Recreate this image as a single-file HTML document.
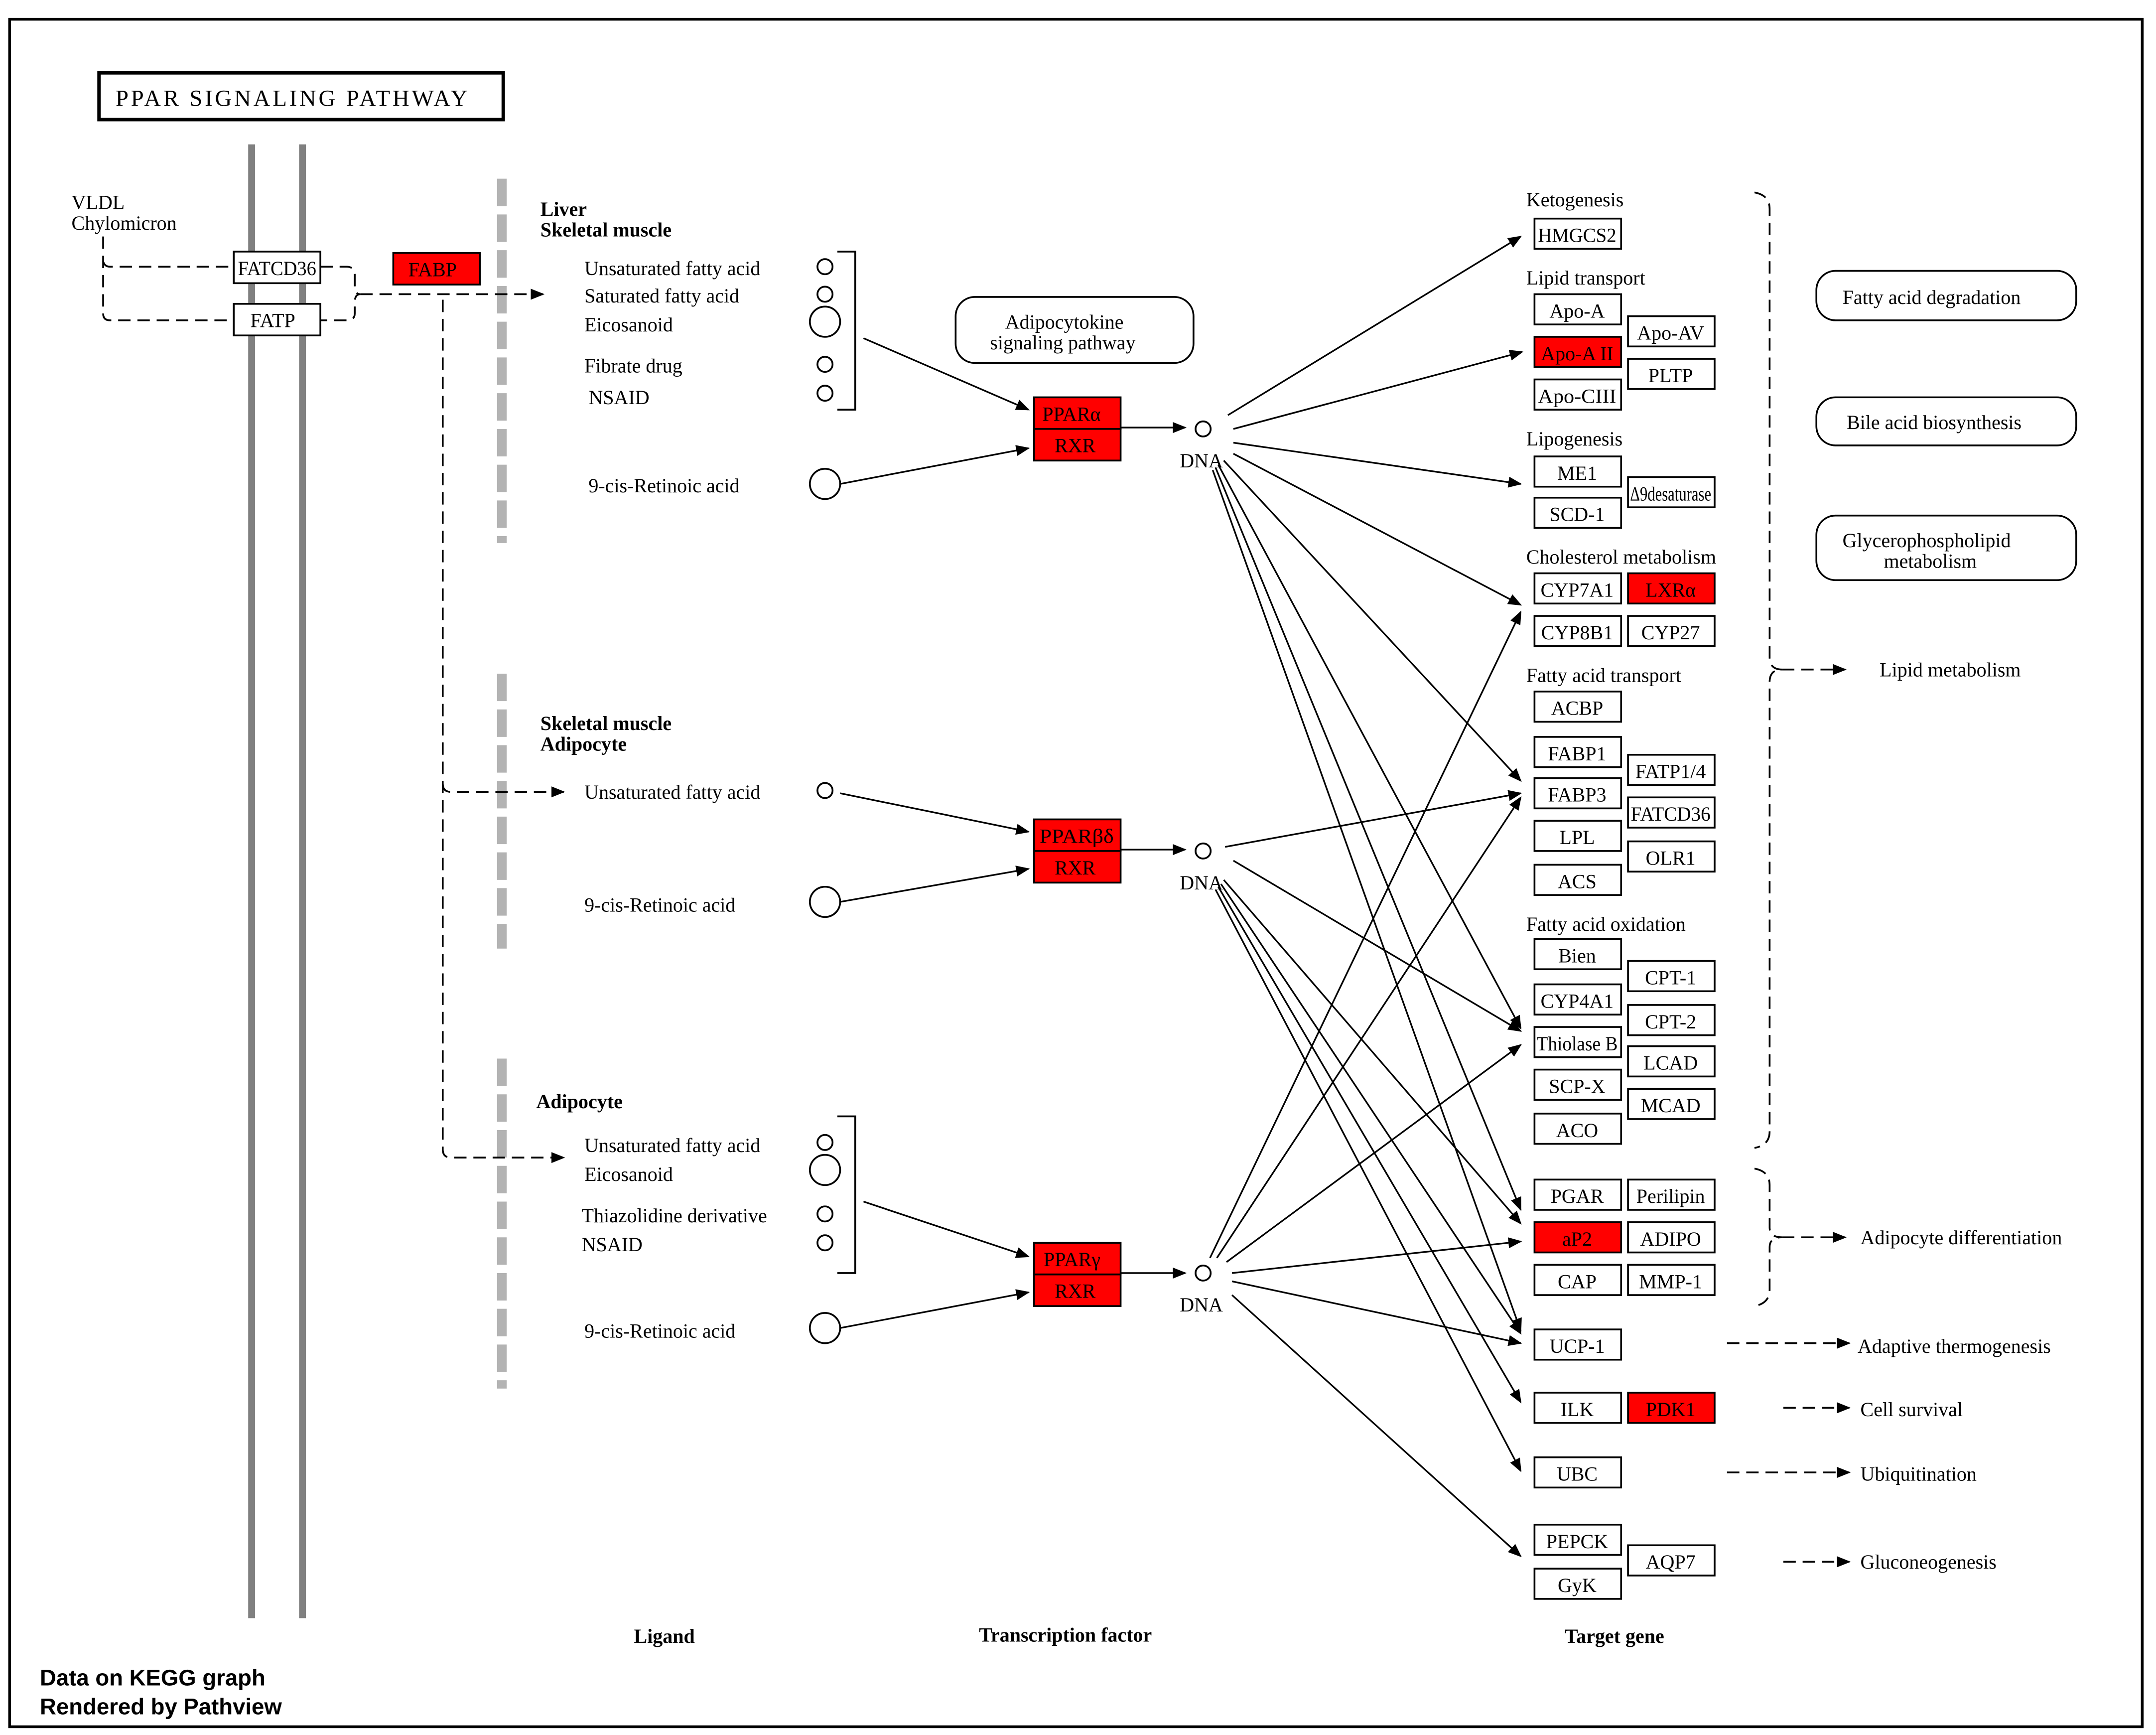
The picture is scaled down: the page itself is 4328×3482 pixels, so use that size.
<!DOCTYPE html>
<html><head><meta charset="utf-8"><style>
html,body{margin:0;padding:0;background:#fff;}
svg{display:block;}
text{font-family:"Liberation Serif",serif;font-size:14.5px;fill:#000;}
.b{font-weight:bold;}
.g rect{fill:#fff;stroke:#000;stroke-width:1.3;}
.r{fill:#ff0000 !important;}
</style></head><body>
<svg width="4328" height="3482" viewBox="0 0 1568 1262" preserveAspectRatio="none" xmlns="http://www.w3.org/2000/svg">
<defs><marker id="a" markerWidth="10" markerHeight="8" refX="9" refY="4" orient="auto" markerUnits="userSpaceOnUse"><path d="M0,0 L10,4 L0,8 z" fill="#000"/></marker></defs>
<rect x="0" y="0" width="1568" height="1262" fill="#fff"/>
<rect x="7" y="14" width="1551" height="1242" fill="none" stroke="#000" stroke-width="2"/>
<rect x="72" y="53" width="294" height="34" fill="none" stroke="#000" stroke-width="2.5"/>
<text x="84" y="77" style="font-size:17px" textLength="256">PPAR  SIGNALING  PATHWAY</text>
<line x1="183" y1="105" x2="183" y2="1177" stroke="#808080" stroke-width="5"/>
<line x1="220" y1="105" x2="220" y2="1177" stroke="#808080" stroke-width="5"/>
<g stroke="#b3b3b3" stroke-width="7" stroke-dasharray="20,6">
<line x1="365" y1="130" x2="365" y2="395"/><line x1="365" y1="490" x2="365" y2="690"/><line x1="365" y1="770" x2="365" y2="1010"/></g>
<text x="52" y="152">VLDL</text><text x="52" y="167">Chylomicron</text>
<g fill="none" stroke="#000" stroke-width="1.3" stroke-dasharray="9,5">
<path d="M75,172 V228 Q75,233 80,233 H170"/><path d="M75,190 Q76,194 80,194 H170"/>
<path d="M233,194 H252 Q258,194 258,200 V208 Q258,214 262,214 Q258,214 258,220 V228 Q258,233 252,233 H233"/>
<path d="M262,214 H395" marker-end="url(#a)"/>
<path d="M322,218 V836 Q322,842 328,842 H410" marker-end="url(#a)"/>
<path d="M322,570 Q322,576 328,576 H410" marker-end="url(#a)"/>
<path d="M1276,140 Q1287,142 1287,152 V478 Q1287,487 1296,487 Q1287,487 1287,496 V823 Q1287,833 1276,835"/>
<path d="M1296,487 H1342" marker-end="url(#a)"/>
<path d="M1276,850 Q1287,852 1287,862 V893 Q1287,900 1296,900 Q1287,900 1287,907 V938 Q1287,948 1276,950"/>
<path d="M1296,900 H1342" marker-end="url(#a)"/>
<path d="M1256,977 H1345" marker-end="url(#a)"/>
<path d="M1297,1024 H1345" marker-end="url(#a)"/>
<path d="M1256,1071 H1345" marker-end="url(#a)"/>
<path d="M1297,1136 H1345" marker-end="url(#a)"/>
</g>
<g class="g">
<rect x="170" y="183" width="63" height="23"/><rect x="170" y="221" width="63" height="23"/><rect class="r" x="286" y="184" width="63" height="23"/>
</g>
<text x="173" y="200" textLength="57" lengthAdjust="spacingAndGlyphs">FATCD36</text>
<text x="182" y="238">FATP</text><text x="297" y="201">FABP</text>
<!-- tissue labels -->
<text class="b" x="393" y="157">Liver</text><text class="b" x="393" y="172">Skeletal muscle</text>
<text class="b" x="393" y="531">Skeletal muscle</text><text class="b" x="393" y="546">Adipocyte</text>
<text class="b" x="390" y="806">Adipocyte</text>
<!-- ligands -->
<text x="425" y="200">Unsaturated fatty acid</text><text x="425" y="220">Saturated fatty acid</text><text x="425" y="241">Eicosanoid</text>
<text x="425" y="271">Fibrate drug</text><text x="428" y="294">NSAID</text><text x="428" y="358">9-cis-Retinoic acid</text>
<text x="425" y="581">Unsaturated fatty acid</text><text x="425" y="663">9-cis-Retinoic acid</text>
<text x="425" y="838">Unsaturated fatty acid</text><text x="425" y="859">Eicosanoid</text><text x="423" y="889">Thiazolidine derivative</text>
<text x="423" y="910">NSAID</text><text x="425" y="973">9-cis-Retinoic acid</text>
<g fill="#fff" stroke="#000" stroke-width="1.3">
<circle cx="600" cy="194" r="5.5"/><circle cx="600" cy="214" r="5.5"/><circle cx="600" cy="234" r="11"/><circle cx="600" cy="265" r="5.5"/><circle cx="600" cy="286" r="5.5"/><circle cx="600" cy="352" r="11"/>
<circle cx="600" cy="575" r="5.5"/><circle cx="600" cy="656" r="11"/>
<circle cx="600" cy="831" r="5.5"/><circle cx="600" cy="851" r="11"/><circle cx="600" cy="883" r="5.5"/><circle cx="600" cy="904" r="5.5"/><circle cx="600" cy="966" r="11"/>
<circle cx="875" cy="312" r="5.5"/><circle cx="875" cy="619" r="5.5"/><circle cx="875" cy="926" r="5.5"/>
</g>
<g fill="none" stroke="#000" stroke-width="1.3">
<path d="M609,183 H622 V298 H609"/><path d="M609,812 H622 V926 H609"/>
<rect x="695" y="216" width="173" height="48" rx="14"/>
<rect x="1321" y="197" width="189" height="36" rx="14"/><rect x="1321" y="289" width="189" height="35" rx="14"/><rect x="1321" y="375" width="189" height="47" rx="14"/>
</g>
<text x="731" y="239">Adipocytokine</text><text x="720" y="254">signaling pathway</text>
<text x="1340" y="221">Fatty acid degradation</text><text x="1343" y="312">Bile acid biosynthesis</text>
<text x="1340" y="398">Glycerophospholipid</text><text x="1370" y="413">metabolism</text>
<g fill="none" stroke="#000" stroke-width="1.2" marker-end="url(#a)">
<line x1="628" y1="246" x2="748" y2="298"/><line x1="611" y1="352" x2="748" y2="326"/>
<line x1="611" y1="577" x2="748" y2="605"/><line x1="611" y1="656" x2="748" y2="632"/>
<line x1="628" y1="874" x2="748" y2="914"/><line x1="611" y1="966" x2="748" y2="940"/>
<line x1="815" y1="311" x2="862" y2="311"/><line x1="815" y1="618" x2="862" y2="618"/><line x1="815" y1="926" x2="862" y2="926"/>
<!-- DNA1 -->
<line x1="893" y1="302" x2="1106" y2="172"/><line x1="897" y1="312" x2="1107" y2="256"/>
<line x1="897" y1="322" x2="1106" y2="352"/><line x1="897" y1="330" x2="1106" y2="440"/>
<line x1="890" y1="335" x2="1106" y2="568"/><line x1="886" y1="338" x2="1106" y2="748"/>
<line x1="884" y1="340" x2="1106" y2="880"/><line x1="882" y1="342" x2="1106" y2="968"/>
<!-- DNA2 -->
<line x1="891" y1="616" x2="1106" y2="577"/><line x1="897" y1="626" x2="1106" y2="750"/>
<line x1="890" y1="640" x2="1106" y2="890"/><line x1="888" y1="643" x2="1106" y2="970"/>
<line x1="886" y1="645" x2="1106" y2="1020"/><line x1="884" y1="647" x2="1106" y2="1070"/>
<!-- DNA3 -->
<line x1="880" y1="915" x2="1106" y2="445"/><line x1="885" y1="915" x2="1106" y2="580"/>
<line x1="892" y1="918" x2="1106" y2="760"/><line x1="896" y1="926" x2="1106" y2="903"/>
<line x1="896" y1="932" x2="1106" y2="977"/><line x1="896" y1="942" x2="1106" y2="1132"/>
</g>
<g class="g">
<rect class="r" x="752" y="289" width="63" height="23"/><rect class="r" x="752" y="312" width="63" height="23"/>
<rect class="r" x="752" y="596" width="63" height="23"/><rect class="r" x="752" y="619" width="63" height="23"/>
<rect class="r" x="752" y="904" width="63" height="23"/><rect class="r" x="752" y="927" width="63" height="23"/>
</g>
<text x="758" y="306">PPARα</text><text x="767" y="329">RXR</text>
<text x="756" y="613" textLength="54" lengthAdjust="spacingAndGlyphs">PPARβδ</text><text x="767" y="636">RXR</text>
<text x="759" y="921">PPARγ</text><text x="767" y="944">RXR</text>
<text x="858" y="340">DNA</text><text x="858" y="647">DNA</text><text x="858" y="954">DNA</text>
<!-- categories -->
<text x="1110" y="150">Ketogenesis</text><text x="1110" y="207">Lipid transport</text><text x="1110" y="324">Lipogenesis</text>
<text x="1110" y="410">Cholesterol metabolism</text><text x="1110" y="496">Fatty acid transport</text><text x="1110" y="677">Fatty acid oxidation</text>
<g class="g">
<rect x="1116" y="159" width="63" height="22"/><rect x="1116" y="214" width="63" height="22"/><rect class="r" x="1116" y="245" width="63" height="22"/><rect x="1116" y="276" width="63" height="22"/>
<rect x="1116" y="332" width="63" height="22"/><rect x="1116" y="362" width="63" height="22"/><rect x="1116" y="417" width="63" height="22"/><rect x="1116" y="448" width="63" height="22"/>
<rect x="1116" y="503" width="63" height="22"/><rect x="1116" y="536" width="63" height="22"/><rect x="1116" y="566" width="63" height="22"/><rect x="1116" y="597" width="63" height="22"/><rect x="1116" y="629" width="63" height="22"/>
<rect x="1116" y="683" width="63" height="22"/><rect x="1116" y="716" width="63" height="22"/><rect x="1116" y="747" width="63" height="22"/><rect x="1116" y="778" width="63" height="22"/><rect x="1116" y="810" width="63" height="22"/>
<rect x="1116" y="858" width="63" height="22"/><rect class="r" x="1116" y="889" width="63" height="22"/><rect x="1116" y="920" width="63" height="22"/>
<rect x="1116" y="967" width="63" height="22"/><rect x="1116" y="1013" width="63" height="22"/><rect x="1116" y="1060" width="63" height="22"/><rect x="1116" y="1109" width="63" height="22"/><rect x="1116" y="1141" width="63" height="22"/>
<rect x="1184" y="230" width="63" height="22"/><rect x="1184" y="261" width="63" height="22"/><rect x="1184" y="347" width="63" height="22"/><rect class="r" x="1184" y="417" width="63" height="22"/><rect x="1184" y="448" width="63" height="22"/>
<rect x="1184" y="549" width="63" height="22"/><rect x="1184" y="580" width="63" height="22"/><rect x="1184" y="612" width="63" height="22"/>
<rect x="1184" y="699" width="63" height="22"/><rect x="1184" y="731" width="63" height="22"/><rect x="1184" y="761" width="63" height="22"/><rect x="1184" y="792" width="63" height="22"/>
<rect x="1184" y="858" width="63" height="22"/><rect x="1184" y="889" width="63" height="22"/><rect x="1184" y="920" width="63" height="22"/>
<rect class="r" x="1184" y="1013" width="63" height="22"/><rect x="1184" y="1124" width="63" height="22"/>
</g>
<g text-anchor="middle">
<text x="1147" y="176" textLength="57" lengthAdjust="spacingAndGlyphs">HMGCS2</text><text x="1147" y="231">Apo-A</text><text x="1147" y="262">Apo-A II</text><text x="1147" y="293" textLength="57" lengthAdjust="spacingAndGlyphs">Apo-CIII</text>
<text x="1147" y="349">ME1</text><text x="1147" y="379">SCD-1</text><text x="1147" y="434">CYP7A1</text><text x="1147" y="465">CYP8B1</text>
<text x="1147" y="520">ACBP</text><text x="1147" y="553">FABP1</text><text x="1147" y="583">FABP3</text><text x="1147" y="614">LPL</text><text x="1147" y="646">ACS</text>
<text x="1147" y="700">Bien</text><text x="1147" y="733">CYP4A1</text><text x="1147" y="764" textLength="59" lengthAdjust="spacingAndGlyphs">Thiolase B</text><text x="1147" y="795">SCP-X</text><text x="1147" y="827">ACO</text>
<text x="1147" y="875">PGAR</text><text x="1147" y="906">aP2</text><text x="1147" y="937">CAP</text>
<text x="1147" y="984">UCP-1</text><text x="1147" y="1030">ILK</text><text x="1147" y="1077">UBC</text><text x="1147" y="1126">PEPCK</text><text x="1147" y="1158">GyK</text>
<text x="1215" y="247">Apo-AV</text><text x="1215" y="278">PLTP</text><text x="1215" y="364" textLength="59" lengthAdjust="spacingAndGlyphs">Δ9desaturase</text><text x="1215" y="434">LXRα</text><text x="1215" y="465">CYP27</text>
<text x="1215" y="566">FATP1/4</text><text x="1215" y="597" textLength="58" lengthAdjust="spacingAndGlyphs">FATCD36</text><text x="1215" y="629">OLR1</text>
<text x="1215" y="716">CPT-1</text><text x="1215" y="748">CPT-2</text><text x="1215" y="778">LCAD</text><text x="1215" y="809">MCAD</text>
<text x="1215" y="875">Perilipin</text><text x="1215" y="906">ADIPO</text><text x="1215" y="937">MMP-1</text>
<text x="1215" y="1030">PDK1</text><text x="1215" y="1141">AQP7</text>
</g>
<text x="1367" y="492">Lipid metabolism</text><text x="1353" y="905">Adipocyte differentiation</text>
<text x="1351" y="984">Adaptive thermogenesis</text><text x="1353" y="1030">Cell survival</text>
<text x="1353" y="1077">Ubiquitination</text><text x="1353" y="1141">Gluconeogenesis</text>
<text class="b" x="461" y="1195">Ligand</text><text class="b" x="712" y="1194">Transcription factor</text><text class="b" x="1138" y="1195">Target gene</text>
<text x="29" y="1226" style="font-family:'Liberation Sans',sans-serif;font-weight:bold;font-size:16.5px">Data on KEGG graph</text>
<text x="29" y="1247" style="font-family:'Liberation Sans',sans-serif;font-weight:bold;font-size:16.5px">Rendered by Pathview</text>
</svg>
</body></html>
